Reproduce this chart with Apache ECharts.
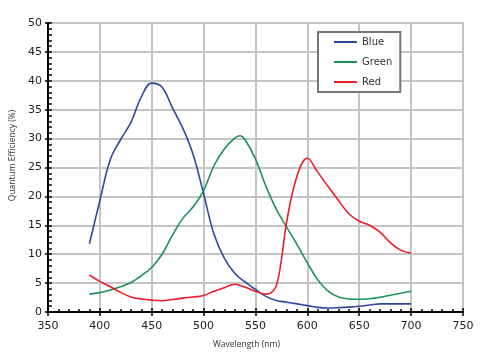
<!DOCTYPE html>
<html><head><meta charset="utf-8">
<script src="https://cdn.jsdelivr.net/npm/echarts@6/dist/echarts.min.js"></script>
<style>html,body{margin:0;padding:0;background:#fff}#c{width:500px;height:360px}</style>
</head><body><div id="c"></div>
<script>
var xTicks = [350,400,450,500,550,600,650,700,750];
var yTicks = [0,5,10,15,20,25,30,35,40,45,50];

var blueNm  = [390,400,410,420,430,440,450,460,470,480,490,500,510,520,530,540,550,560,570,580,590,600,610,620,630,640,650,660,670,680,690,700];
var blueVal = [11.8,19.2,26.3,29.8,32.8,37.2,39.6,38.9,35.3,31.8,27.2,20.5,13.5,9.3,6.7,5.2,3.9,2.7,2.0,1.7,1.4,1.1,0.8,0.7,0.75,0.85,1.0,1.2,1.4,1.4,1.4,1.4];

var greenNm  = [390,400,410,420,430,440,450,460,470,480,490,500,510,520,530,535,540,550,560,570,580,590,600,610,620,630,640,650,660,670,680,690,700];
var greenVal = [3.1,3.35,3.8,4.35,5.1,6.3,7.7,10.0,13.3,16.2,18.2,21.0,25.3,28.2,30.1,30.5,29.8,26.5,21.8,17.8,14.7,11.7,8.5,5.6,3.6,2.6,2.25,2.2,2.3,2.55,2.9,3.25,3.6];

var redNm  = [390,400,410,420,430,440,450,460,470,480,490,500,510,520,530,540,550,560,565,570,575,580,590,600,610,620,630,640,650,660,670,680,690,700];
var redVal = [6.4,5.3,4.4,3.4,2.6,2.25,2.05,1.95,2.15,2.4,2.6,2.85,3.6,4.2,4.8,4.3,3.6,3.1,3.3,4.5,9.0,15.5,23.5,26.6,24.2,21.7,19.3,17.0,15.7,15.0,13.8,12.0,10.7,10.2];

var seriesNames = ['Blue','Green','Red'];
var seriesColors = ['#2e47a0','#1e9058','#ee1c24'];

function pairs(xs, ys){ return xs.map(function(x,i){ return [x, ys[i]]; }); }
var seriesData = [pairs(blueNm,blueVal), pairs(greenNm,greenVal), pairs(redNm,redVal)];

var font = 'DejaVu Sans';
var chart = echarts.init(document.getElementById('c'), null, {renderer:'canvas'});
var grid = {left:44, right:37, top:23, bottom:48, show:true, borderColor:'#8a8a8a', borderWidth:1.5, backgroundColor:'transparent'};

var option = {
  animation:false,
  grid: grid,
  legend: {
    orient:'vertical', left:318, top:32,
    data: seriesNames.map(function(n){ return {name:n, icon:'rect'}; }),
    itemWidth:23, itemHeight:2, itemGap:10,
    padding:[5,8,5,16],
    backgroundColor:'#fff', borderColor:'#777', borderWidth:2,
    textStyle:{fontFamily:font, fontSize:10, color:'#333'}
  },
  xAxis: [{
    type:'value', min:xTicks[0], max:xTicks[xTicks.length-1], interval:50,
    name:'Wavelength (nm)', nameLocation:'middle', nameGap:28,
    nameTextStyle:{fontFamily:'Open Sans', fontSize:8.5, color:'#333', padding:[0,18,0,0]},
    axisLine:{show:true, onZero:false, lineStyle:{color:'#000', width:2}},
    axisTick:{show:true, inside:true, length:4, lineStyle:{color:'#000', width:1.5}},
    minorTick:{show:true, splitNumber:5, length:3, lineStyle:{color:'#000', width:1.5}},
    axisLabel:{fontFamily:font, fontSize:11, color:'#222', margin:9},
    splitLine:{show:true, lineStyle:{color:'#c4c4c4', width:2}}
  },{
    type:'value', min:xTicks[0], max:xTicks[xTicks.length-1], interval:50, position:'bottom',
    axisLine:{show:false}, axisTick:{show:true, inside:false, length:4, lineStyle:{color:'#000', width:1.5}},
    axisLabel:{show:false}, splitLine:{show:false}
  }],
  yAxis: [{
    type:'value', min:yTicks[0], max:yTicks[yTicks.length-1], interval:5,
    name:'Quantum Efficiency (%)', nameLocation:'middle', nameGap:28,
    nameTextStyle:{fontFamily:'Open Sans', fontSize:8.5, color:'#333', padding:[0,0,0,24]},
    axisLine:{show:true, onZero:false, lineStyle:{color:'#000', width:2}},
    axisTick:{show:true, inside:true, length:4, lineStyle:{color:'#000', width:1.5}},
    minorTick:{show:true, splitNumber:5, length:4, lineStyle:{color:'#000', width:1.5}},
    axisLabel:{fontFamily:font, fontSize:11, color:'#222', margin:6},
    splitLine:{show:true, lineStyle:{color:'#c4c4c4', width:2}}
  },{
    type:'value', min:yTicks[0], max:yTicks[yTicks.length-1], interval:5, position:'left',
    axisLine:{show:false}, axisTick:{show:true, inside:false, length:3, lineStyle:{color:'#000', width:1.5}},
    axisLabel:{show:false}, splitLine:{show:false}
  }],
  series: seriesNames.map(function(n,i){
    return {name:n, type:'line', data:seriesData[i], smooth:0.4, symbol:'none',
      lineStyle:{color:seriesColors[i], width:1.6}, itemStyle:{color:seriesColors[i]}, z:3};
  })
};
chart.setOption(option);
</script></body></html>
